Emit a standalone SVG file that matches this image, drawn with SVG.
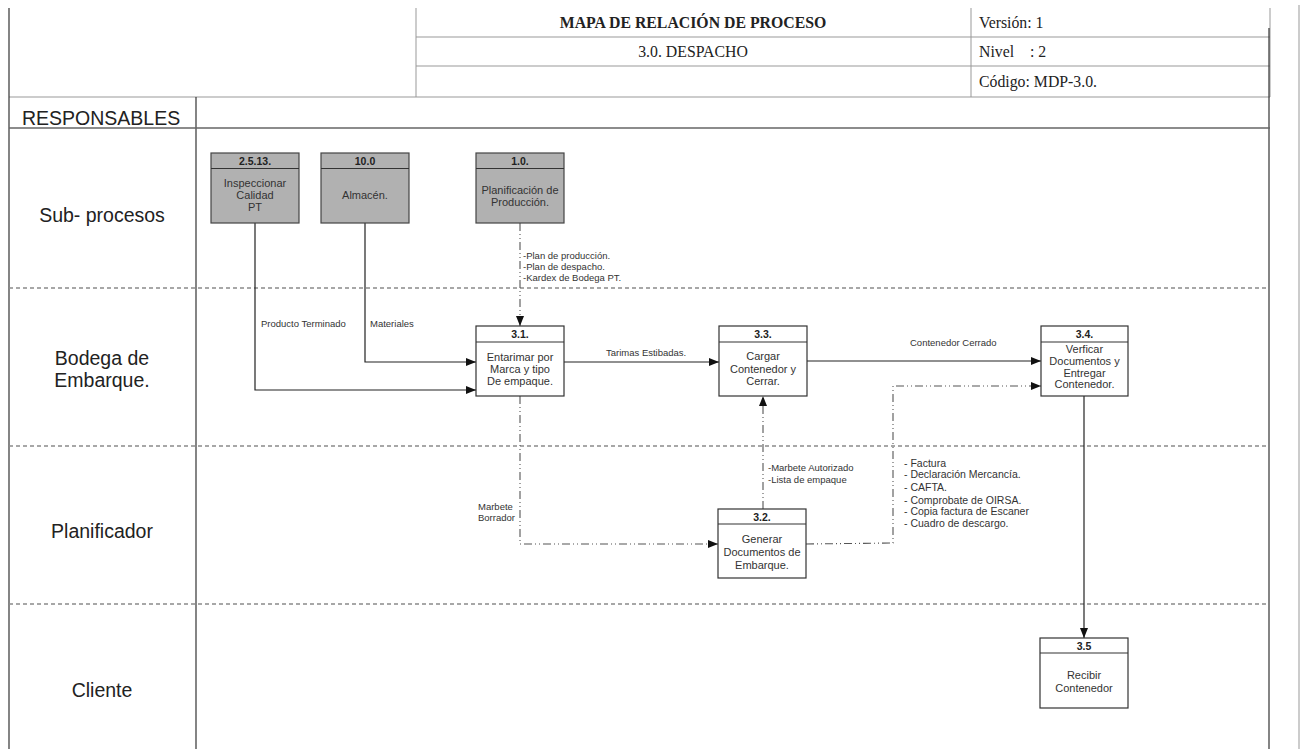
<svg xmlns="http://www.w3.org/2000/svg" width="1304" height="749" viewBox="0 0 1304 749">
  <style>
    .hdr { font-family: "Liberation Serif", "DejaVu Serif", serif; font-size: 15.8px; fill: #222; }
    .lane { font-family: "Liberation Sans", Arial, sans-serif; font-size: 19.5px; fill: #222; }
    .nt { font-family: "Liberation Sans", Arial, sans-serif; font-size: 11px; fill: #333; text-anchor: middle; }
    .nh { font-family: "Liberation Sans", Arial, sans-serif; font-size: 10.5px; font-weight: bold; fill: #222; text-anchor: middle; }
    .lbl { font-family: "Liberation Sans", Arial, sans-serif; font-size: 9.5px; fill: #333; }
    .lst { font-family: "Liberation Sans", Arial, sans-serif; font-size: 10.5px; fill: #333; }
    .box { fill: #fff; stroke: #333; stroke-width: 1.2; }
    .sub { fill: #b1b1b1; stroke: #444; stroke-width: 1.2; }
    .grid { stroke: #999; stroke-width: 1; fill: none; }
    .frame { stroke: #333; stroke-width: 1.2; fill: none; }
    .sep { stroke: #8a8a8a; stroke-width: 1.5; stroke-dasharray: 4 3; fill: none; }
    .flow { stroke: #222; stroke-width: 1.2; fill: none; }
    .doc { stroke: #555; stroke-width: 1.1; fill: none; stroke-dasharray: 8 3 1 3 1 3; }
  </style>
  <defs>
    <marker id="arr" viewBox="0 0 10 8" refX="10" refY="4" markerWidth="10" markerHeight="8" markerUnits="userSpaceOnUse" orient="auto">
      <path d="M0,0 L10,4 L0,8 Z" fill="#111"/>
    </marker>
  </defs>
  <rect width="1304" height="749" fill="#fff"/>

  <!-- title block -->
  <g id="title-block">
    <line class="grid" x1="416" y1="8" x2="416" y2="97"/>
    <line class="grid" x1="971" y1="8" x2="971" y2="97"/>
    <line class="grid" x1="1270" y1="8" x2="1270" y2="97"/>
    <line class="grid" x1="416" y1="37" x2="1270" y2="37"/>
    <line class="grid" x1="416" y1="66" x2="1270" y2="66"/>
    <line class="grid" x1="9" y1="97" x2="1270" y2="97"/>
    <text class="hdr" x="693" y="28" text-anchor="middle" font-weight="bold">MAPA DE RELACIÓN DE PROCESO</text>
    <text class="hdr" x="693" y="57" text-anchor="middle">3.0. DESPACHO</text>
    <text class="hdr" x="979" y="28">Versión: 1</text>
    <text class="hdr" x="979" y="57" xml:space="preserve">Nivel    : 2</text>
    <text class="hdr" x="979" y="87">Código: MDP-3.0.</text>
  </g>

  <!-- swimlane frame -->
  <g id="lanes">
    <line class="frame" x1="9" y1="8" x2="9" y2="749"/>
    <line class="frame" x1="1269" y1="28" x2="1269" y2="749"/>
    <line class="grid" x1="1299" y1="5" x2="1299" y2="749"/>
    <line class="frame" x1="196" y1="97" x2="196" y2="749"/>
    <line x1="9" y1="128" x2="1270" y2="128" stroke="#666" stroke-width="1.5"/>
    <line class="sep" x1="9" y1="288" x2="1269" y2="288"/>
    <line class="sep" x1="9" y1="446" x2="1269" y2="446"/>
    <line class="sep" x1="9" y1="604" x2="1269" y2="604"/>
    <text class="lane" x="22" y="125" font-size="20.5">RESPONSABLES</text>
    <text class="lane" x="102" y="222" text-anchor="middle">Sub- procesos</text>
    <text class="lane" x="102" y="365" text-anchor="middle">Bodega de</text>
    <text class="lane" x="102" y="387" text-anchor="middle">Embarque.</text>
    <text class="lane" x="102" y="538" text-anchor="middle">Planificador</text>
    <text class="lane" x="102" y="697" text-anchor="middle">Cliente</text>
  </g>

  <!-- connectors -->
  <g id="connectors">
    <polyline class="flow" points="255,223 255,390 476,390" marker-end="url(#arr)"/>
    <polyline class="flow" points="365,223 365,362 476,362" marker-end="url(#arr)"/>
    <line class="doc" x1="520" y1="223" x2="520" y2="326" marker-end="url(#arr)"/>
    <line class="flow" x1="564" y1="362" x2="719" y2="362" marker-end="url(#arr)"/>
    <line class="flow" x1="807" y1="361" x2="1041" y2="361" marker-end="url(#arr)"/>
    <polyline class="doc" points="520,396 520,544 718,544" marker-end="url(#arr)"/>
    <line class="doc" x1="763" y1="509" x2="763" y2="396" marker-end="url(#arr)"/>
    <polyline class="doc" points="806,544 893,543 893,386 1041,386" marker-end="url(#arr)"/>
    <line class="flow" x1="1084" y1="396" x2="1084" y2="638" marker-end="url(#arr)"/>

    <text class="lbl" x="261" y="327">Producto Terminado</text>
    <text class="lbl" x="370" y="327">Materiales</text>
    <text class="lbl" x="523" y="259">-Plan de producción.</text>
    <text class="lbl" x="523" y="270">-Plan de despacho.</text>
    <text class="lbl" x="523" y="281">-Kardex de Bodega PT.</text>
    <text class="lbl" x="606" y="356">Tarimas Estibadas.</text>
    <text class="lbl" x="910" y="346">Contenedor Cerrado</text>
    <text class="lbl" x="478" y="510">Marbete</text>
    <text class="lbl" x="478" y="521">Borrador</text>
    <text class="lbl" x="768" y="471">-Marbete Autorizado</text>
    <text class="lbl" x="768" y="483">-Lista de empaque</text>
    <text class="lst" x="904" y="467">- Factura</text>
    <text class="lst" x="904" y="478">- Declaración Mercancía.</text>
    <text class="lst" x="904" y="491">- CAFTA.</text>
    <text class="lst" x="904" y="504">- Comprobate de OIRSA.</text>
    <text class="lst" x="904" y="515">- Copia factura de Escaner</text>
    <text class="lst" x="904" y="527">- Cuadro de descargo.</text>
  </g>

  <!-- sub-process nodes -->
  <g id="n-2-5-13">
    <rect class="sub" x="211" y="153" width="88" height="70"/>
    <line class="frame" x1="211" y1="168.5" x2="299" y2="168.5"/>
    <text class="nh" x="255" y="164.5">2.5.13.</text>
    <text class="nt" x="255" y="187">Inspeccionar</text>
    <text class="nt" x="255" y="199">Calidad</text>
    <text class="nt" x="255" y="211">PT</text>
  </g>
  <g id="n-10-0">
    <rect class="sub" x="321" y="153" width="88" height="70"/>
    <line class="frame" x1="321" y1="168.5" x2="409" y2="168.5"/>
    <text class="nh" x="365" y="164.5">10.0</text>
    <text class="nt" x="365" y="199">Almacén.</text>
  </g>
  <g id="n-1-0">
    <rect class="sub" x="476" y="153" width="88" height="70"/>
    <line class="frame" x1="476" y1="168.5" x2="564" y2="168.5"/>
    <text class="nh" x="520" y="164.5">1.0.</text>
    <text class="nt" x="520" y="194">Planificación de</text>
    <text class="nt" x="520" y="206">Producción.</text>
  </g>

  <!-- process nodes -->
  <g id="n-3-1">
    <rect class="box" x="476" y="326" width="88" height="70"/>
    <line class="frame" x1="476" y1="342" x2="564" y2="342"/>
    <text class="nh" x="520" y="338">3.1.</text>
    <text class="nt" x="520" y="361">Entarimar por</text>
    <text class="nt" x="520" y="373">Marca y tipo</text>
    <text class="nt" x="520" y="385">De empaque.</text>
  </g>
  <g id="n-3-3">
    <rect class="box" x="719" y="326" width="88" height="70"/>
    <line class="frame" x1="719" y1="342" x2="807" y2="342"/>
    <text class="nh" x="763" y="338">3.3.</text>
    <text class="nt" x="763" y="360">Cargar</text>
    <text class="nt" x="763" y="373">Contenedor y</text>
    <text class="nt" x="763" y="385">Cerrar.</text>
  </g>
  <g id="n-3-4">
    <rect class="box" x="1041" y="326" width="87" height="70"/>
    <line class="frame" x1="1041" y1="342" x2="1128" y2="342"/>
    <text class="nh" x="1084.5" y="338">3.4.</text>
    <text class="nt" x="1084.5" y="353">Verficar</text>
    <text class="nt" x="1084.5" y="365">Documentos y</text>
    <text class="nt" x="1084.5" y="377">Entregar</text>
    <text class="nt" x="1084.5" y="388">Contenedor.</text>
  </g>
  <g id="n-3-2">
    <rect class="box" x="718" y="509" width="88" height="69"/>
    <line class="frame" x1="718" y1="524" x2="806" y2="524"/>
    <text class="nh" x="762" y="520.5">3.2.</text>
    <text class="nt" x="762" y="543">Generar</text>
    <text class="nt" x="762" y="556">Documentos de</text>
    <text class="nt" x="762" y="569">Embarque.</text>
  </g>
  <g id="n-3-5">
    <rect class="box" x="1040" y="638" width="88" height="70"/>
    <line class="frame" x1="1040" y1="653" x2="1128" y2="653"/>
    <text class="nh" x="1084" y="649.5">3.5</text>
    <text class="nt" x="1084" y="679">Recibir</text>
    <text class="nt" x="1084" y="692">Contenedor</text>
  </g>
</svg>
